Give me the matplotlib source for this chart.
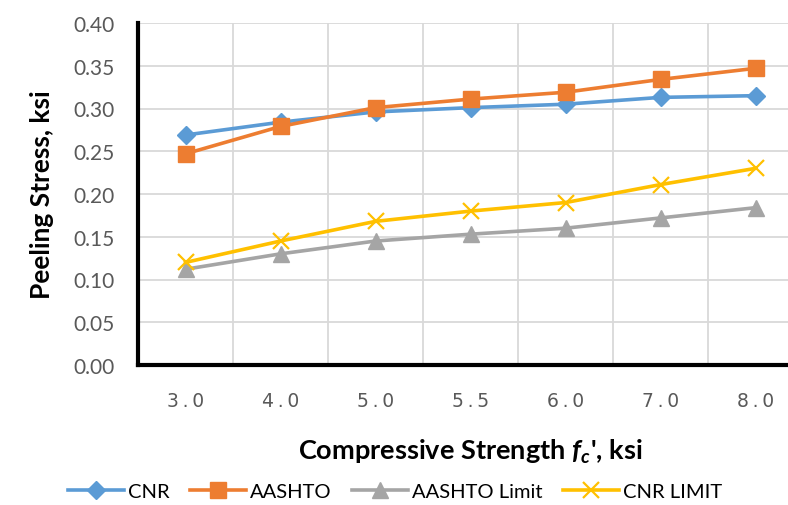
import matplotlib
matplotlib.use("Agg")
import matplotlib.pyplot as plt

strength = ["3.0", "4.0", "5.0", "5.5", "6.0", "7.0", "8.0"]
cnr = [0.269, 0.284, 0.296, 0.301, 0.305, 0.313, 0.315]
aashto = [0.247, 0.279, 0.301, 0.311, 0.319, 0.334, 0.347]
aashto_limit = [0.112, 0.130, 0.145, 0.153, 0.160, 0.172, 0.184]
cnr_limit = [0.120, 0.145, 0.168, 0.180, 0.190, 0.211, 0.230]
yticks = [0.00, 0.05, 0.10, 0.15, 0.20, 0.25, 0.30, 0.35, 0.40]

plt.rcParams['font.family'] = ['Lato', 'DejaVu Sans']
plt.rcParams['mathtext.fontset'] = 'custom'
plt.rcParams['mathtext.bfit'] = 'Lato:bold:italic'

fig = plt.figure(figsize=(7.88, 5.06), dpi=100)
ax = fig.add_axes([138 / 788, 1 - 366 / 506, 665 / 788, 342 / 506])

x = list(range(len(strength)))
ax.plot(x, cnr, color='#5B9BD5', lw=2.6, marker='D', ms=9, label='CNR')
ax.plot(x, aashto, color='#ED7D31', lw=2.6, marker='s', ms=11, label='AASHTO')
ax.plot(x, aashto_limit, color='#A5A5A5', lw=2.6, marker='^', ms=11, label='AASHTO Limit')
ax.plot(x, cnr_limit, color='#FFC000', lw=2.6, marker='x', ms=11, mew=1.6,
        label='CNR LIMIT')

ax.set_xlim(-0.5, len(strength) - 0.5)
ax.set_ylim(0, 0.40)
ax.set_yticks(yticks)
ax.set_yticklabels([f"{v:.2f}" for v in yticks])
ax.set_xticks(x)
ax.set_xticklabels(["\u2009".join(s) for s in strength], family='DejaVu Sans')
ax.set_xticks([i + 0.5 for i in x], minor=True)

ax.grid(True, which='major', axis='y', color='#D9D9D9', lw=1.3)
ax.grid(True, which='minor', axis='x', color='#D9D9D9', lw=1.3)
ax.set_axisbelow(True)
ax.tick_params(which='both', length=0)
ax.tick_params(axis='x', labelsize=13.5, labelcolor='#595959', pad=19)
ax.tick_params(axis='y', labelsize=15, labelcolor='#595959', pad=17)

for s in ['top', 'right']:
    ax.spines[s].set_visible(False)
for s in ['left', 'bottom']:
    ax.spines[s].set_linewidth(3)
    ax.spines[s].set_color('black')

ax.set_ylabel('Peeling Stress, ksi', fontsize=19, fontweight='bold', labelpad=14)
ax.set_xlabel(r"Compressive Strength $\mathbfit{f_c}$', ksi", fontsize=19.5,
              fontweight='bold', labelpad=19)

fig.legend(loc='center', bbox_to_anchor=(395 / 788, 1 - 492 / 506), ncol=4,
           frameon=False, fontsize=14.5, handlelength=2.8, columnspacing=1.0,
           handletextpad=0.2)

fig.savefig('out.png', dpi=100)
